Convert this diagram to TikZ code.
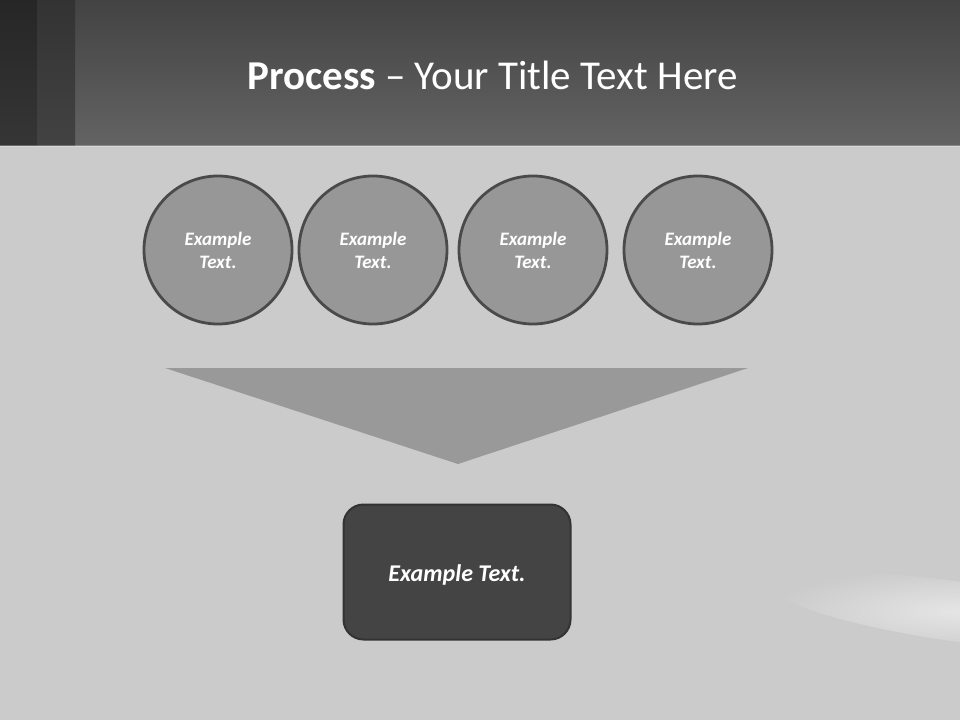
\documentclass[tikz,border=0pt]{standalone}
\usepackage{fontspec}
\setmainfont{Carlito}
\begin{document}
\begin{tikzpicture}[x=1pt,y=-1pt,
  stepcircle/.style={circle,minimum size=148pt,inner sep=0pt,fill=circfill,draw=circline,line width=2.8pt,
    text=white,font=\fontsize{19}{23}\selectfont\bfseries\itshape,align=center},
  resultbox/.style={rounded corners=20pt,minimum width=227pt,minimum height=135pt,inner sep=0pt,
    fill=boxfill,draw=boxline,line width=2pt,text=white,text height=19pt,text depth=0pt,
    font=\fontsize{24}{28}\selectfont\bfseries\itshape}]
\definecolor{bg}{HTML}{CBCBCB}
\definecolor{hdtop}{HTML}{434343}
\definecolor{hdbot}{HTML}{636363}
\definecolor{circfill}{HTML}{979797}
\definecolor{circline}{HTML}{4A4A4A}
\definecolor{trifill}{HTML}{999999}
\definecolor{boxfill}{HTML}{444444}
\definecolor{boxline}{HTML}{333333}
\useasboundingbox (0,0) rectangle (960,720);
% background
\fill[bg] (0,145) rectangle (960,720);
\begin{scope}
\clip (0,145) rectangle (960,720);
\shade[inner color=white!50!bg,outer color=bg,rotate around={-8:(960,612)}] (960,612) ellipse [x radius=190pt,y radius=30pt];
\end{scope}
% header
\shade[top color=hdtop,bottom color=hdbot] (0,0) rectangle (960,145);
\shade[top color=black!85,bottom color=black!79] (0,0) rectangle (37,145);
\shade[top color=black!80,bottom color=black!74] (37,0) rectangle (75,145);
\fill[white,opacity=0.25] (0,145) rectangle (960,147);
\node[text=white,font=\fontsize{41}{45}\selectfont,anchor=center] (title) at (492.5,75) {\textbf{Process} – Your Title Text Here};
% circles
\node[stepcircle] (c1) at (218,250) {Example\\Text.};
\node[stepcircle] (c2) at (373,250) {Example\\Text.};
\node[stepcircle] (c3) at (533,250) {Example\\Text.};
\node[stepcircle] (c4) at (698,250) {Example\\Text.};
% funnel triangle
\coordinate (tl) at (165,368);
\coordinate (tr) at (748,368);
\coordinate (tb) at (458,464);
\fill[trifill] (tl) -- (tr) -- (tb) -- cycle;
% result box
\node[resultbox] (res) at (457,572) {Example Text.};
\end{tikzpicture}
\end{document}
